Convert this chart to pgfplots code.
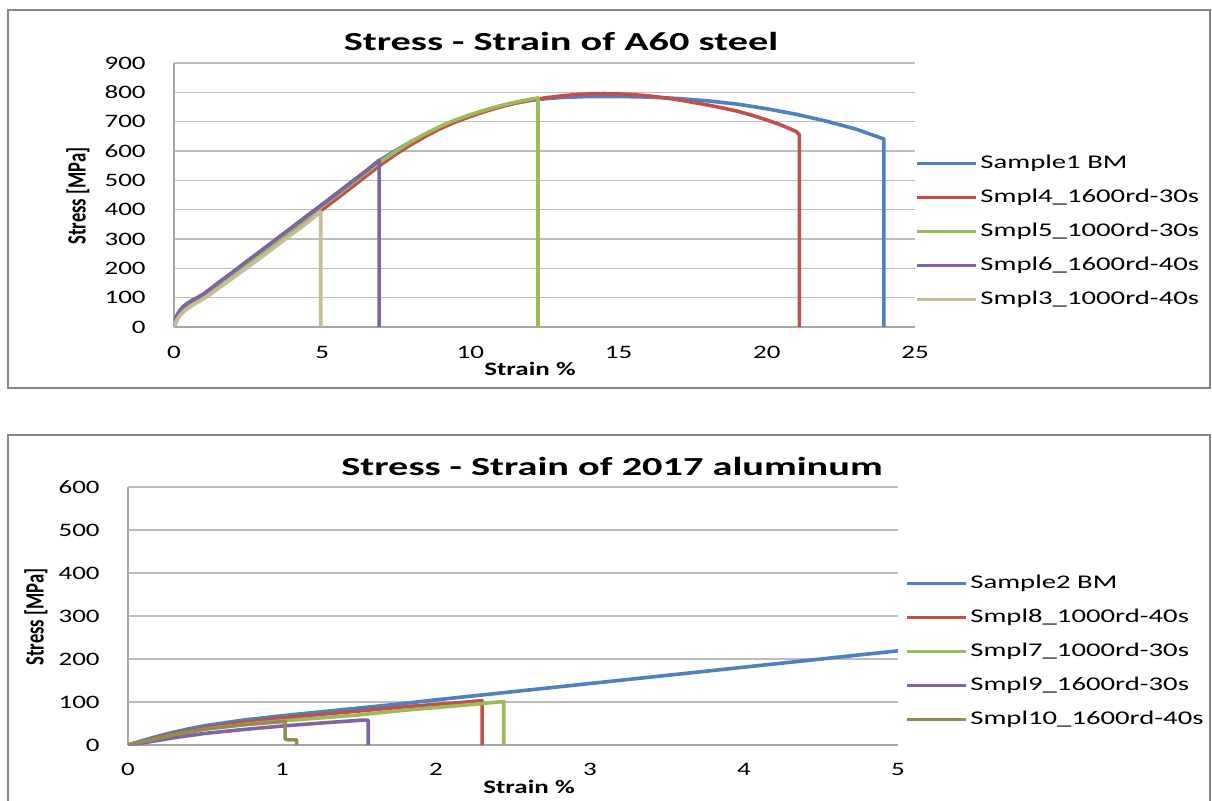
\documentclass[border=0pt]{standalone}
\usepackage{fontspec}
\setmainfont[FakeStretch=1.42]{Carlito}
\newfontfamily\titlefont[FakeStretch=1.55]{Carlito}
\newfontfamily\legfont[FakeStretch=1.48]{Carlito}
\newfontfamily\plainfont{Carlito}
\usepackage{graphicx}
\usepackage{pgfplots}
\pgfplotsset{compat=1.18}
\definecolor{sblue}{HTML}{4F81BD}
\definecolor{sred}{HTML}{C0504D}
\definecolor{sgreen}{HTML}{9BBB59}
\definecolor{spurple}{HTML}{8064A2}
\definecolor{stan}{HTML}{C4BD97}
\definecolor{solive}{HTML}{948A54}
\definecolor{gridgray}{HTML}{BDBDBD}
\definecolor{axgray}{HTML}{A6A6A6}
\definecolor{framegray}{HTML}{868686}
\pgfplotsset{myaxis/.style={
  scale only axis, axis lines*=left,
  axis line style={draw=axgray, line width=0.6pt},
  ymajorgrids, grid style={draw=gridgray, line width=0.6pt},
  major tick length=0pt, tick style={draw=none},
  /pgf/number format/assume math mode=true,
  ticklabel style={font=\fontsize{9.5}{11}\selectfont, inner sep=0pt},
  yticklabel style={anchor=east, xshift=-14pt},
  xticklabel style={anchor=center, yshift=-12.5pt},
  every axis plot/.append style={line width=1.8pt, line join=round, no markers},
  legend style={draw=none, fill=none, inner sep=0pt, font=\legfont\fontsize{9.7}{11}\selectfont,
    row sep=5pt, nodes={inner sep=1.5pt, text height=7pt, text depth=2pt, anchor=west}, anchor=west},
  legend cell align=left,
  legend image code/.code={\draw[##1, line width=1.5pt] (0pt,0pt) -- (29.5pt,0pt);}
}}
\begin{document}
\begin{tikzpicture}
\useasboundingbox (0,0) rectangle (606pt,400pt);
\fill[white] (0,0) rectangle (606pt,400pt);
\draw[framegray, line width=1pt] (4pt,206pt) rectangle (605pt,395pt);
\draw[framegray, line width=1pt] (4pt,-5pt) rectangle (605pt,182.5pt);
% ---------- top chart ----------
\begin{axis}[myaxis, at={(87pt,236.5pt)}, anchor=south west, width=370.5pt, height=132pt,
  xmin=0, xmax=25, ymin=0, ymax=900, xtick={0,5,...,25}, ytick={0,100,...,900},
  legend style={at={(1.0,0.362)}}]
\addplot[sblue] coordinates {(0,0) (0.05,22) (0.1,38) (0.2,56) (0.3,68) (0.45,80) (0.6,90) (0.8,100) (1,112) (1.5,149) (2,187) (2.5,226) (3,264) (3.5,303) (4,341) (4.5,380) (5,418) (5.5,457) (6,495) (6.5,534) (7,572) (7.5,603) (8,632) (8.5,658) (9,682) (9.5,703) (10,722) (10.5,738) (11,752) (11.5,763) (12,772) (12.5,778) (13,782) (14,786) (15,786) (16,784) (17,779) (18,771) (19,760) (20,744) (21,725) (22,702) (23,675) (23.95,641) (23.95,0)};
\addlegendentry{Sample1 BM}
\addplot[sred] coordinates {(0,0) (0.1,25) (0.2,42) (0.4,60) (0.7,80) (1,98) (1.5,135) (2,172) (2.5,210) (3,248) (3.5,286) (4,324) (4.5,362) (5,400) (5.5,438) (6,477) (6.5,516) (7,555) (7.5,590) (8,622) (8.5,651) (9,677) (9.5,699) (10,718) (10.5,735) (11,750) (11.5,763) (12,773) (12.5,781) (13,787) (13.5,792) (14,795) (14.5,796) (15,795) (15.5,792) (16,788) (16.5,782) (17,775) (17.5,766) (18,757) (18.5,747) (19,736) (19.5,722) (20,706) (20.5,688) (21,666) (21.1,655) (21.1,0)};
\addlegendentry{Smpl4\_1600rd-30s}
\addplot[sgreen] coordinates {(0,0) (0.1,28) (0.2,46) (0.4,64) (0.7,85) (1,103) (1.5,142) (2,180) (2.5,218) (3,257) (3.5,295) (4,334) (4.5,373) (5,412) (5.5,450) (6,489) (6.5,528) (7,566) (7.5,600) (8,632) (8.5,660) (9,685) (9.5,706) (10,724) (10.5,740) (11,754) (11.5,766) (12,776) (12.28,781) (12.28,0)};
\addlegendentry{Smpl5\_1000rd-30s}
\addplot[spurple] coordinates {(0,0) (0.05,25) (0.1,40) (0.2,57) (0.3,68) (0.45,80) (0.6,90) (0.8,101) (1,113) (1.5,151) (2,189) (2.5,227) (3,265) (3.5,303) (4,341) (4.5,379) (5,417) (5.5,455) (6,495) (6.5,533) (6.92,569) (6.92,0)};
\addlegendentry{Smpl6\_1600rd-40s}
\addplot[stan] coordinates {(0,0) (0.05,12) (0.1,25) (0.2,40) (0.35,55) (0.5,66) (0.75,82) (1,96) (1.5,132) (2,168) (2.5,205) (3,242) (3.5,280) (4,318) (4.5,356) (4.95,393) (4.95,0)};
\addlegendentry{Smpl3\_1000rd-40s}
\end{axis}
\node[font=\titlefont\bfseries\fontsize{13}{15}\selectfont] at (280.5pt,379.5pt) {Stress - Strain of A60 steel};
\node[font=\bfseries\fontsize{9.5}{11}\selectfont] at (265pt,215.5pt) {Strain \%};
\node[rotate=90, font=\plainfont\bfseries\fontsize{9.3}{11}\selectfont] at (39pt,302pt) {\scalebox{1}[1.42]{Stress [MPa]}};
% ---------- bottom chart ----------
\begin{axis}[myaxis, at={(64pt,27.5pt)}, anchor=south west, width=385pt, height=129pt,
  xmin=0, xmax=5, ymin=0, ymax=600, xtick={0,1,...,5}, ytick={0,100,...,600},
  xticklabel style={yshift=0.5pt},
  legend style={at={(1.009,0.362)}}]
\addplot[sblue] coordinates {(0,0) (0.1,11) (0.2,21) (0.3,30) (0.4,38) (0.5,45) (0.75,58) (1,68) (1.25,77) (1.5,86) (1.75,95) (2,105) (2.5,124) (3,143) (3.5,162) (4,181) (4.5,200) (5,219)};
\addlegendentry{Sample2 BM}
\addplot[sred] coordinates {(0,0) (0.1,9) (0.2,18) (0.3,27) (0.5,40) (0.75,53) (1,63) (1.25,71) (1.5,79) (1.83,90) (2.1,97) (2.3,103) (2.3,0)};
\addlegendentry{Smpl8\_1000rd-40s}
\addplot[sgreen] coordinates {(0,0) (0.1,8) (0.2,16) (0.3,24) (0.5,37) (0.75,48) (1,56) (1.25,63) (1.5,70) (1.83,82) (2.1,90) (2.44,101) (2.44,0)};
\addlegendentry{Smpl7\_1000rd-30s}
\addplot[spurple] coordinates {(0,0) (0.1,5) (0.2,11) (0.3,17) (0.5,27) (0.75,36) (1,44) (1.25,51) (1.53,58) (1.56,58) (1.56,0)};
\addlegendentry{Smpl9\_1600rd-30s}
\addplot[solive] coordinates {(0,0) (0.1,8) (0.2,16) (0.3,24) (0.5,37) (0.75,47) (1.02,55) (1.02,14) (1.04,12) (1.095,12) (1.095,0)};
\addlegendentry{Smpl10\_1600rd-40s}
\end{axis}
\node[font=\titlefont\bfseries\fontsize{13}{15}\selectfont] at (306pt,167pt) {Stress - Strain of 2017 aluminum};
\node[font=\bfseries\fontsize{9.5}{11}\selectfont] at (264.5pt,6.5pt) {Strain \%};
\node[rotate=90, font=\plainfont\bfseries\fontsize{9.3}{11}\selectfont] at (18pt,91.5pt) {\scalebox{1}[1.42]{Stress [MPa]}};
\end{tikzpicture}
\end{document}
